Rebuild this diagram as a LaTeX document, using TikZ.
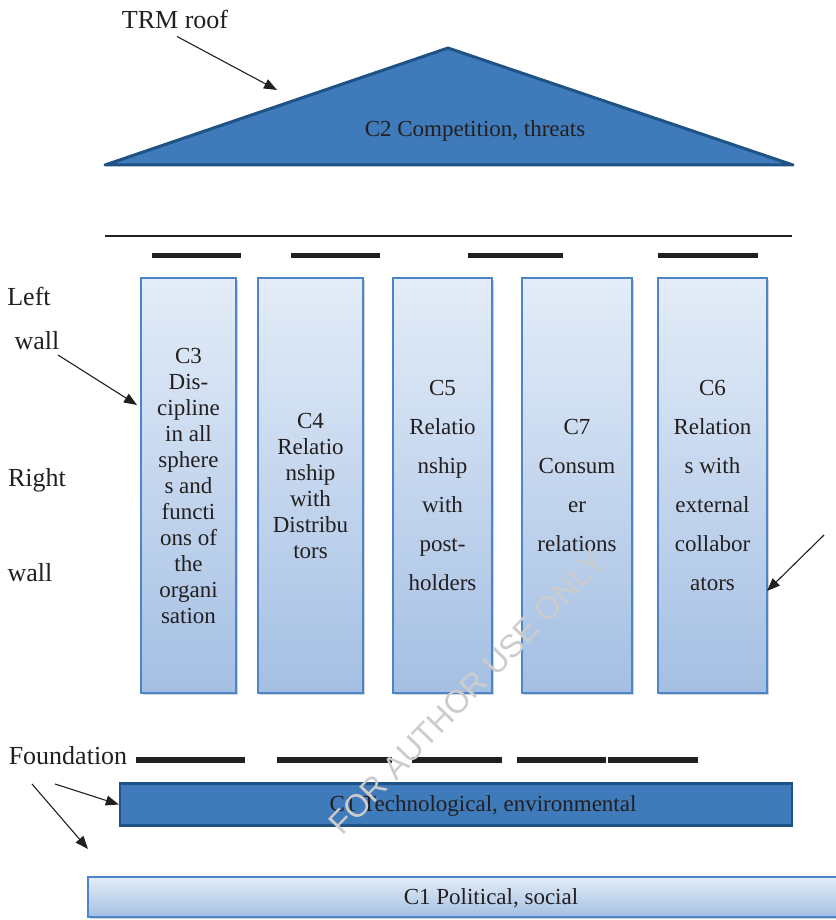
\documentclass[tikz,border=0pt]{standalone}
\usepackage{fontspec}
\setmainfont{Liberation Serif}
\setsansfont{Liberation Sans}
\usetikzlibrary{arrows.meta,shadows}
\definecolor{roofblue}{HTML}{3F7ABB}
\definecolor{roofline}{HTML}{1F5285}
\definecolor{pilltop}{HTML}{E4EDF8}
\definecolor{pillbot}{HTML}{A4BFE3}
\definecolor{pillline}{HTML}{4A86C8}
\definecolor{ink}{HTML}{231F20}
\begin{document}
\begin{tikzpicture}[x=1pt, y=-1pt, >={Triangle[length=13pt,width=10pt]},
  wall text/.style={font=\fontsize{26}{28}\selectfont, text=ink, inner sep=0pt},
  pillar/.style={draw=pillline, line width=1.2pt, top color=pilltop, bottom color=pillbot,
    minimum height=415pt, align=center, text=ink, inner sep=0pt,
    drop shadow={shadow xshift=1.5pt, shadow yshift=-1.5pt, opacity=0.35}},
  dark slab/.style={draw=roofline, line width=2.5pt, fill=roofblue, minimum height=42pt},
  light slab/.style={draw=pillline, line width=1.2pt, top color=pilltop, bottom color=pillbot,
    minimum height=40pt, drop shadow={shadow xshift=1.5pt, shadow yshift=-1.5pt, opacity=0.35}},
  beam/.style={ink, line width=5pt},
  pointer/.style={->, ink, line width=1.1pt}]
  \tikzstyle{every node}=[font=\fontsize{23}{26}\selectfont]

  \useasboundingbox (0,0) rectangle (835,920);

  % roof
  \coordinate (eaveL) at (105,165);
  \coordinate (apex) at (448,48);
  \coordinate (eaveR) at (793,165);
  \draw[roofline, fill=roofblue, line width=3pt, line join=round] (eaveL) -- (apex) -- (eaveR) -- cycle;
  \node[text=ink] (roof) at (475,131) {C2 Competition, threats};
  \node[wall text] (trm) at (175,19) {TRM roof};
  \coordinate (roofpt) at (277,90);
  \draw[pointer] (trm.south) ++(2,8) -- (roofpt);

  % beams under the roof
  \draw[ink, line width=2pt] (105,236) -- (792,236);
  \draw[beam] (152,255) -- (241,255);
  \draw[beam] (291,255) -- (380,255);
  \draw[beam] (468,255) -- (563,255);
  \draw[beam] (658,255) -- (758,255);

  % pillars
  \node[pillar, minimum width=95pt] (c3) at (188.5,485.5)
    {C3\\Dis-\\cipline\\in all\\sphere\\s and\\functi\\ons of\\the\\organi\\sation};
  \node[pillar, minimum width=105pt] (c4) at (310.5,485.5)
    {C4\\Relatio\\nship\\with\\Distribu\\tors};
  \node[pillar, minimum width=99pt, font=\fontsize{23}{39}\selectfont] (c5) at (442.5,485.5)
    {C5\\Relatio\\nship\\with\\post-\\holders};
  \node[pillar, minimum width=110pt, font=\fontsize{23}{39}\selectfont] (c7) at (577,485.5)
    {C7\\Consum\\er\\relations};
  \node[pillar, minimum width=109pt, font=\fontsize{23}{39}\selectfont] (c6) at (712.5,485.5)
    {C6\\Relation\\s with\\external\\collabor\\ators};

  % walls
  \node[wall text] (left) at (29,296) {Left};
  \node[wall text] (lwall) at (37,341) {wall};
  \node[wall text] (right) at (37,480) {Right};
  \node[wall text] (rwall) at (30,573) {wall};
  \coordinate (c3pt) at (137,405);
  \draw[pointer] (58,355) -- (c3pt);
  \coordinate (rfree) at (824,535);
  \coordinate (c6pt) at (767,591);
  \draw[pointer] (rfree) -- (c6pt);

  % foundation
  \node[wall text] (found) at (68,756) {Foundation};
  \draw[ink, line width=6pt] (136,760) -- (245,760);
  \draw[ink, line width=6pt] (277,760) -- (392,760);
  \draw[ink, line width=6pt] (412,760) -- (502,760);
  \draw[ink, line width=6pt] (517,760) -- (606,760);
  \draw[ink, line width=6pt] (608,760) -- (698,760);
  \node[dark slab, minimum width=672pt] (tech) at (456,804.5) {};
  \node[text=ink] (techtxt) at (483,806) {C1 Technological, environmental};
  \node[light slab, minimum width=750pt] (polit) at (463,897) {};
  \node[text=ink] (polittxt) at (491,898) {C1 Political, social};
  \coordinate (lowpt) at (88,849);
  \draw[pointer] (55,784) -- (tech.west);
  \draw[pointer] (32,784) -- (lowpt);

  % watermark
  \node[rotate=46, text=gray!40, font=\sffamily\fontsize{32}{34}\selectfont] (mark) at (467,692) {FOR AUTHOR USE ONLY};
\end{tikzpicture}
\end{document}
